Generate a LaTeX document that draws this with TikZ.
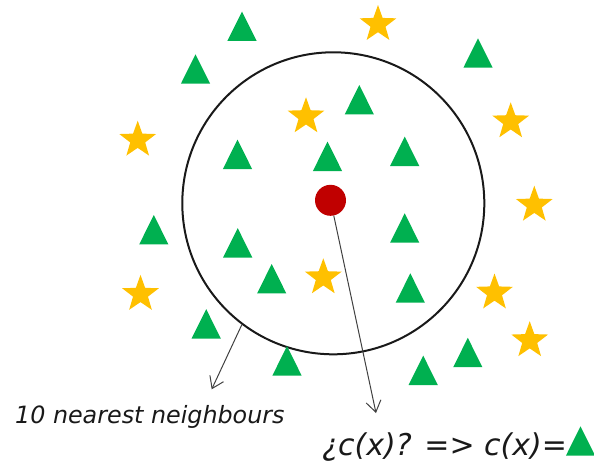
\documentclass[tikz,border=0pt]{standalone}
\usepackage{fontspec}
\setmainfont{DejaVu Sans}
\usetikzlibrary{shapes.geometric,arrows.meta}
\definecolor{trigreen}{HTML}{00B050}
\definecolor{stargold}{HTML}{FFC000}
\definecolor{dotred}{HTML}{C00000}
\tikzset{
  starnode/.style={star, star points=5, star point ratio=2.45, fill=stargold, draw=none, inner sep=0pt, minimum size=38.6pt},
  pics/tri/.style={code={\fill[trigreen] (-14.6,14.7) -- (0,-14.7) -- (14.6,14.7) -- cycle;}},
  pointer/.style={draw=black!75, line width=1pt, -{Straight Barb[length=11pt,width=15pt,line width=1pt]}},
  lbl/.style={inner sep=0pt, anchor=base west, text=black!90}
}
\begin{document}
\begin{tikzpicture}[x=1pt,y=-1pt]
\useasboundingbox (0,0) rectangle (594,461);
% ring of the 10 nearest neighbours
\node[circle, draw=black!90, line width=2pt, minimum size=302pt, inner sep=0pt] (ring) at (333.3,203.3) {};
% triangles
\foreach \x/\y [count=\i] in {242/26.2, 195.5/69, 478/53, 359.3/99.7, 237.5/154.3, 327.5/156.3, 404.7/151.3, 153.8/229.7, 237.7/242.8, 404.7/228, 271.7/278.7, 410.3/288, 206.2/323.8, 287/360.8, 467.8/352.5, 423.2/370.3}
  \pic (t\i) at (\x,\y) {tri};
% stars
\foreach \x/\y [count=\i] in {378/24.3, 306/116.6, 137.7/140, 510.7/121.6, 534.3/205, 323.3/277.6, 140.5/294.2, 494.5/292.8, 529.7/340.5}
  \node[starnode] (s\i) at (\x,\y) {};
% query point
\node[circle, fill=dotred, minimum size=31pt, inner sep=0pt] (q) at (330.5,200.3) {};
% labels
\node[lbl, font=\itshape\fontsize{23.8}{28}\selectfont] (txtA) at (15,423) {10 nearest neighbours};
\node[lbl, font=\itshape\fontsize{30}{36}\selectfont] (txtB) at (322,455) {¿c(x)? => c(x)=};
\pic (t17) at (580.5,441) {tri};
% pointers
\coordinate (tipA) at (211.7,389.3);
\coordinate (tipB) at (376,413);
\draw[pointer] (ring.233.3) -- (tipA);
\draw[pointer] (q) -- (tipB);
\end{tikzpicture}
\end{document}
